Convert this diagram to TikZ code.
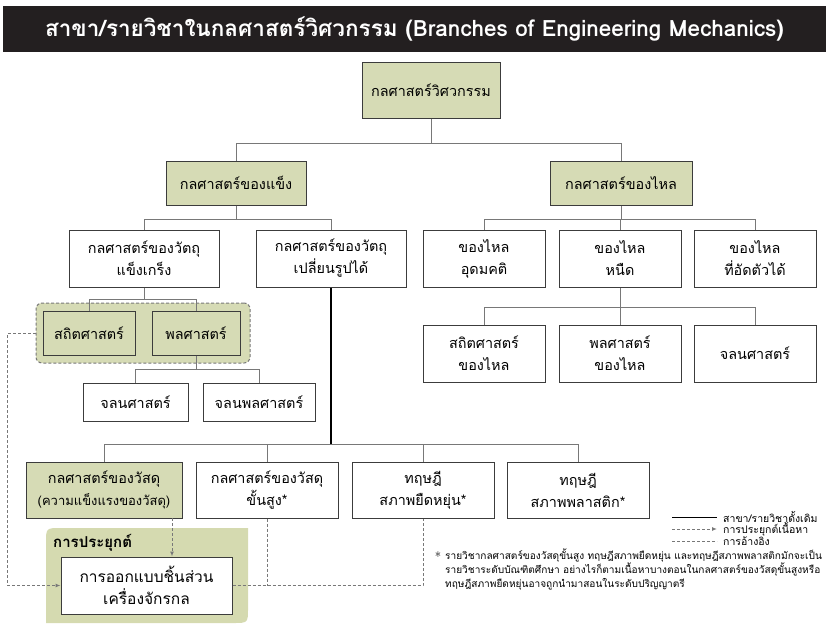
\documentclass[tikz,border=0pt]{standalone}
\usepackage{fontspec}
\newfontfamily\thai[Script=Thai]{Loma}
\usetikzlibrary{arrows.meta,calc}
\definecolor{khaki}{RGB}{214,219,181}
\definecolor{appfill}{RGB}{213,218,176}
\definecolor{boxline}{RGB}{60,60,60}
\definecolor{conn}{RGB}{120,120,120}
\definecolor{titlebg}{RGB}{35,31,32}
\tikzset{
  box/.style={draw=boxline, line width=1pt, fill=white, align=center, inner sep=0pt},
  kbox/.style={box, fill=khaki},
  sz/.style 2 args={minimum width=#1, minimum height=#2},
  conline/.style={draw=conn, line width=1pt},
  mainline/.style={draw=black, line width=1.6pt},
  applyline/.style={draw=conn, line width=1pt, dash pattern=on 3pt off 2pt, -{Latex[length=5pt,width=4pt]}},
  refline/.style={draw=conn, line width=1pt, dash pattern=on 3pt off 2pt},
  legtext/.style={anchor=west, font=\thai\fontsize{10.5}{12}\selectfont, inner sep=0pt},
}
\begin{document}
\begin{tikzpicture}[x=1pt,y=-1pt, font=\thai\fontsize{14.4}{22}\selectfont]
\useasboundingbox (0,0) rectangle (829,634);
% title
\node[fill=titlebg, text=white, sz={823pt}{46pt}, font=\thai\bfseries\fontsize{22.5}{24}\selectfont] (title) at (414.5,29) {สาขา/รายวิชาในกลศาสตร์วิศวกรรม (Branches of Engineering Mechanics)};
% application background
\fill[appfill] (46,623) -- (46,543) .. controls (46,528) .. (61,528) -- (248,528) -- (248,608) .. controls (248,623) .. (233,623) -- cycle;
\node[anchor=west, font=\thai\bfseries\fontsize{15}{16}\selectfont, inner sep=0pt] (applabel) at (53,543) {การประยุกต์};
% group
\node[draw=conn, line width=1pt, dash pattern=on 3pt off 2pt, fill=khaki, rounded corners=6pt, sz={214pt}{60pt}] (grp) at (143,333) {};
% nodes
\node[kbox, sz={138pt}{56pt}] (root) at (431,90) {กลศาสตร์วิศวกรรม};
\node[kbox, sz={140pt}{44pt}] (solid) at (236,183) {กลศาสตร์ของแข็ง};
\node[kbox, sz={142pt}{44pt}] (fluid) at (621,183) {กลศาสตร์ของไหล};
\node[box, sz={150pt}{57pt}] (rigid) at (144,258.5) {กลศาสตร์ของวัตถุ\\แข็งเกร็ง};
\node[box, sz={150pt}{57pt}] (deform) at (331,258.5) {กลศาสตร์ของวัตถุ\\เปลี่ยนรูปได้};
\node[box, sz={122pt}{57pt}] (ideal) at (484,258.5) {ของไหล\\อุดมคติ};
\node[box, sz={122pt}{57pt}] (visc) at (620,258.5) {ของไหล\\หนืด};
\node[box, sz={122pt}{57pt}] (comp) at (755,258.5) {ของไหล\\ที่อัดตัวได้};
\node[box, sz={122pt}{57pt}] (fstat) at (484,353.5) {สถิตศาสตร์\\ของไหล};
\node[box, sz={122pt}{57pt}] (fdyn) at (620,353.5) {พลศาสตร์\\ของไหล};
\node[box, sz={122pt}{57pt}] (fkin) at (755,353.5) {จลนศาสตร์};
\node[kbox, sz={92pt}{44pt}] (stat) at (89,333) {สถิตศาสตร์};
\node[kbox, sz={88pt}{44pt}] (dyn) at (196,333) {พลศาสตร์};
\node[box, sz={105pt}{38pt}] (kin) at (135.5,402) {จลนศาสตร์};
\node[box, sz={112pt}{38pt}] (kinet) at (259,402) {จลนพลศาสตร์};
\node[kbox, sz={156pt}{56pt}] (mat) at (104,490) {กลศาสตร์ของวัสดุ\\{\fontsize{13}{20}\selectfont(ความแข็งแรงของวัสดุ)}};
\node[box, sz={142pt}{56pt}] (adv) at (267,490) {กลศาสตร์ของวัสดุ\\ขั้นสูง*};
\node[box, sz={142pt}{56pt}] (elast) at (423,490) {ทฤษฎี\\สภาพยืดหยุ่น*};
\node[box, sz={142pt}{56pt}] (plast) at (578,490) {ทฤษฎี\\สภาพพลาสติก*};
\node[box, sz={171pt}{57pt}, font=\thai\fontsize{15.5}{22}\selectfont] (design) at (146.5,585.5) {การออกแบบชิ้นส่วน\\เครื่องจักรกล};
% junctions
\coordinate (j1) at (431,143);
\coordinate (j2) at (236,219);
\coordinate (j3) at (621,219);
\coordinate (j4) at (144,299);
\coordinate (j5) at (620,307);
\coordinate (j6) at (196,369);
\coordinate (j7) at (331,444);
% tree lines
\draw[conline] (root) -- (j1); \draw[conline] (j1) -| (solid); \draw[conline] (j1) -| (fluid);
\draw[conline] (solid) -- (j2); \draw[conline] (j2) -| (rigid); \draw[conline] (j2) -| (deform);
\draw[conline] (fluid) -- (j3); \draw[conline] (j3) -| (ideal); \draw[conline] (j3) -| (visc); \draw[conline] (j3) -| (comp);
\draw[conline] (visc) -- (j5); \draw[conline] (j5) -| (fstat); \draw[conline] (j5) -| (fdyn); \draw[conline] (j5) -| (fkin);
\draw[conline] (rigid) -- (j4); \draw[conline] (j4) -| (stat); \draw[conline] (j4) -| (dyn);
\draw[conline] (dyn) -- (j6); \draw[conline] (j6) -| (kin); \draw[conline] (j6) -| (kinet);
\draw[conline] (j7) -| (mat); \draw[conline] (j7) -| (adv); \draw[conline] (j7) -| (elast); \draw[conline] (j7) -| (plast);
\draw[mainline] (deform) -- (j7);
% application and reference
\coordinate (a1) at (172,518);
\draw[applyline] (a1) -- (a1 |- design.north);
\draw[applyline] (grp.west) -- ++(-28,0) |- (design.west);
\draw[refline] (design.east) -| (elast.south);
\draw[refline] (adv.south) -- (adv.south |- design.east);
% legend
\coordinate (l1a) at (672,517); \coordinate (l1b) at (717,517);
\coordinate (l2a) at (672,529); \coordinate (l2b) at (717,529);
\coordinate (l3a) at (672,541); \coordinate (l3b) at (717,541);
\draw[draw=black, line width=1pt] (l1a) -- (l1b);
\draw[applyline] (l2a) -- (l2b);
\draw[refline] (l3a) -- (l3b);
\node[legtext] (lt1) at (723,517) {สาขา/รายวิชาดั้งเดิม};
\node[legtext] (lt2) at (723,529) {การประยุกต์เนื้อหา};
\node[legtext] (lt3) at (723,541) {การอ้างอิง};
% footnote
\node[inner sep=0pt, font=\fontsize{13}{13}\selectfont] (star) at (438,557) {*};
\node[anchor=north west, align=left, inner sep=0pt, font=\thai\fontsize{10.1}{14}\selectfont] (foot) at (445,549) {รายวิชากลศาสตร์ของวัสดุขั้นสูง ทฤษฎีสภาพยืดหยุ่น และทฤษฎีสภาพพลาสติกมักจะเป็น\\รายวิชาระดับบัณฑิตศึกษา อย่างไรก็ตามเนื้อหาบางตอนในกลศาสตร์ของวัสดุขั้นสูงหรือ\\ทฤษฎีสภาพยืดหยุ่นอาจถูกนำมาสอนในระดับปริญญาตรี};
\end{tikzpicture}
\end{document}
